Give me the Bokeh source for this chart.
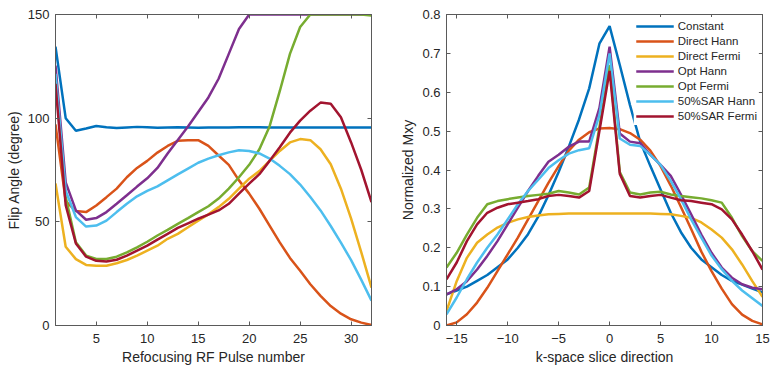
from bokeh.plotting import figure
from bokeh.layouts import row
from bokeh.models import (LinearAxis, FixedTicker, CustomJSTickFormatter, Range1d,
                          CustomLabelingPolicy)
from bokeh.embed import file_html
from bokeh.resources import INLINE

# ---------------- data ----------------
pulse = list(range(1, 33))
kspace = list(range(-16, 16))

series_names = ["Constant", "Direct Hann", "Direct Fermi", "Opt Hann",
                "Opt Fermi", "50%SAR Hann", "50%SAR Fermi"]
series_colors = ["#0072BD", "#D95319", "#EDB120", "#7E2F8E",
                 "#77AC30", "#4DBEEE", "#A2142F"]

# Flip angle (degree) vs refocusing pulse number
fa_constant = [134.5, 100, 93.9, 95, 96.2, 95.6, 95.2, 95.5, 95.8, 95.6, 95.4, 95.5,
               95.6, 95.5, 95.4, 95.5, 95.5, 95.5, 95.6, 95.6, 95.6, 95.5, 95.5, 95.5,
               95.5, 95.5, 95.5, 95.5, 95.5, 95.5, 95.5, 95.5]
fa_direct_hann = [97, 60, 55.2, 54.7, 57.9, 61.9, 66, 71.5, 76, 79.4, 83.4, 86.6,
                  89.1, 89.4, 89.4, 86.6, 82, 77.5, 70, 63.6, 56.3, 48.2, 40.1, 32.6,
                  26.4, 19.9, 14.3, 9.4, 5.7, 3, 1.4, 0.2]
fa_direct_fermi = [68.5, 38, 32, 29.2, 28.8, 28.8, 30, 31.6, 33.7, 36.1, 38.5, 41.8,
                   44.2, 47.4, 50.6, 53.6, 57.1, 61.1, 66, 70.8, 74.5, 79.4, 84.2, 88.3,
                   89.9, 89.4, 85, 77.8, 66, 51.5, 35.3, 18.3]
fa_opt_hann = [125.4, 69, 55.5, 51, 51.8, 54.7, 58.7, 62.8, 67, 71, 76, 83,
               89.5, 96, 103, 110, 119, 131, 143, 150, 150, 150, 150, 150,
               150, 150, 150, 150, 150, 150, 150, 150]
fa_opt_fermi = [119, 62, 40.1, 33.7, 32.1, 32.1, 33.2, 35.3, 37.7, 40.4, 43.4, 46.1,
                49, 51.8, 54.7, 57.5, 61.2, 66, 71.5, 77.5, 85, 96, 113, 131,
                144, 150, 150, 150, 150, 150, 150, 149.5]
fa_sar_hann = [121.4, 65, 52.3, 47.7, 48.2, 50.6, 54.7, 58.7, 62.3, 64.9, 67.1, 70,
               72.9, 75.7, 78.5, 80.5, 82.1, 83.5, 84.5, 84.2, 83, 80.5, 77, 73,
               68, 62, 55.5, 48, 40, 31.5, 22, 12]
fa_sar_fermi = [116.6, 58, 39.6, 33.2, 31.2, 30.9, 31.7, 33.7, 36.1, 38.5, 41.4, 44.2,
                47.1, 49.3, 51.5, 53.5, 55.5, 58.7, 63.6, 68.4, 73, 79.4, 86, 93,
                98.8, 103.6, 107.5, 107, 100.4, 88.3, 75, 59.5]

# Normalized Mxy vs k-space slice direction
mxy_constant = [0.08, 0.09, 0.10, 0.115, 0.13, 0.15, 0.17, 0.2, 0.235, 0.28, 0.335, 0.395,
                0.46, 0.53, 0.61, 0.725, 0.77, 0.67, 0.567, 0.473, 0.41, 0.35, 0.29, 0.24,
                0.2, 0.17, 0.15, 0.13, 0.115, 0.105, 0.095, 0.085]
mxy_direct_hann = [0.0, 0.008, 0.029, 0.059, 0.097, 0.14, 0.183, 0.226, 0.273, 0.32, 0.367, 0.41,
                   0.45, 0.478, 0.497, 0.507, 0.508, 0.505, 0.495, 0.478, 0.45, 0.41, 0.36, 0.305,
                   0.248, 0.19, 0.14, 0.095, 0.055, 0.028, 0.012, 0.003]
mxy_direct_fermi = [0.037, 0.114, 0.174, 0.213, 0.234, 0.252, 0.264, 0.273, 0.279, 0.283, 0.286, 0.287,
                    0.288, 0.288, 0.288, 0.288, 0.288, 0.288, 0.288, 0.288, 0.288, 0.287, 0.286, 0.282,
                    0.277, 0.265, 0.247, 0.226, 0.196, 0.157, 0.114, 0.074]
mxy_opt_hann = [0.08, 0.093, 0.114, 0.144, 0.179, 0.217, 0.26, 0.303, 0.346, 0.385, 0.421, 0.439,
                0.46, 0.473, 0.473, 0.559, 0.717, 0.494, 0.473, 0.469, 0.439, 0.413, 0.385, 0.337,
                0.286, 0.234, 0.187, 0.149, 0.123, 0.106, 0.097, 0.093]
mxy_opt_fermi = [0.149, 0.187, 0.234, 0.277, 0.312, 0.32, 0.325, 0.329, 0.333, 0.336, 0.339, 0.346,
                 0.342, 0.337, 0.355, 0.51, 0.67, 0.395, 0.342, 0.337, 0.342, 0.344, 0.337, 0.333,
                 0.33, 0.327, 0.322, 0.316, 0.277, 0.23, 0.191, 0.166]
mxy_sar_hann = [0.029, 0.072, 0.119, 0.162, 0.2, 0.234, 0.273, 0.312, 0.346, 0.375, 0.405, 0.425,
                0.442, 0.451, 0.456, 0.541, 0.70, 0.481, 0.465, 0.462, 0.439, 0.413, 0.372, 0.325,
                0.273, 0.226, 0.18, 0.145, 0.115, 0.09, 0.07, 0.05]
mxy_sar_fermi = [0.119, 0.162, 0.217, 0.26, 0.29, 0.303, 0.312, 0.316, 0.32, 0.325, 0.333, 0.336,
                 0.333, 0.329, 0.346, 0.50, 0.655, 0.39, 0.333, 0.329, 0.333, 0.336, 0.329, 0.322,
                 0.32, 0.316, 0.312, 0.299, 0.273, 0.234, 0.191, 0.144]

left_x_ticks = [5, 10, 15, 20, 25, 30]
left_y_ticks = [0, 50, 100, 150]
right_x_ticks = [-15, -10, -5, 0, 5, 10, 15]
right_y_ticks = [0, 0.1, 0.2, 0.3, 0.4, 0.5, 0.6, 0.7, 0.8]

fa_series = [fa_constant, fa_direct_hann, fa_direct_fermi, fa_opt_hann,
             fa_opt_fermi, fa_sar_hann, fa_sar_fermi]
mxy_series = [mxy_constant, mxy_direct_hann, mxy_direct_fermi, mxy_opt_hann,
              mxy_opt_fermi, mxy_sar_hann, mxy_sar_fermi]

# ---------------- style ----------------
FONT = "Liberation Sans"
TEXT = "#262626"
AX = "#5a5a5a"
LW = 2.5

hide_labels = CustomLabelingPolicy(
    code="for (const i of Array.from(indices)) { indices.unset(i) }\nreturn indices")


def style(p, xticks, yticks, xlabel, ylabel, yfmt=None):
    p.grid.visible = False
    p.outline_line_color = AX
    p.outline_line_width = 1
    p.background_fill_color = "white"
    p.border_fill_color = "white"
    xa = p.below[0]
    ya = p.left[0]
    xa.ticker = FixedTicker(ticks=xticks)
    ya.ticker = FixedTicker(ticks=yticks)
    if yfmt is not None:
        ya.formatter = yfmt
    for ax, lab in ((xa, xlabel), (ya, ylabel)):
        ax.axis_label = lab
        ax.axis_label_text_font = FONT
        ax.axis_label_text_font_size = "14px"
        ax.axis_label_text_font_style = "normal"
        ax.axis_label_text_color = TEXT
        ax.major_label_text_font = FONT
        ax.major_label_text_font_size = "13px"
        ax.major_label_text_color = TEXT
        ax.axis_line_color = AX
        ax.major_tick_line_color = AX
        ax.major_tick_in = 4
        ax.major_tick_out = 0
        ax.minor_tick_line_color = None
    xa.major_label_standoff = 8
    xa.axis_label_standoff = 3
    ya.major_label_standoff = 6
    ya.axis_label_standoff = 3
    for loc, ticks in (("above", xticks), ("right", yticks)):
        ax = LinearAxis(ticker=FixedTicker(ticks=ticks),
                        major_label_policy=hide_labels,
                        major_label_text_font_size="1px",
                        major_label_standoff=0,
                        major_tick_in=4, major_tick_out=0,
                        minor_tick_line_color=None,
                        axis_line_color=AX, major_tick_line_color=AX)
        p.add_layout(ax, loc)


# ---------------- left figure ----------------
p1 = figure(width=390, height=372, output_backend="svg", toolbar_location=None,
            x_range=Range1d(1, 32), y_range=Range1d(0, 150),
            min_border_left=55, min_border_right=19,
            min_border_top=14, min_border_bottom=47)
style(p1, left_x_ticks, left_y_ticks, "Refocusing RF Pulse number", "Flip Angle (degree)")
for ys, c in zip(fa_series, series_colors):
    p1.line(pulse, ys, line_color=c, line_width=LW)

# ---------------- right figure ----------------
p2 = figure(width=380, height=372, output_backend="svg", toolbar_location=None,
            x_range=Range1d(-16, 15), y_range=Range1d(0, 0.8),
            min_border_left=56, min_border_right=8,
            min_border_top=14, min_border_bottom=47)
fmt = CustomJSTickFormatter(code="return Math.abs(tick) < 1e-9 ? '0' : tick.toFixed(1);")
style(p2, right_x_ticks, right_y_ticks, "k-space slice direction", "Normalized Mxy", yfmt=fmt)
for ys, c, n in zip(mxy_series, series_colors, series_names):
    p2.line(kspace, ys, line_color=c, line_width=LW, legend_label=n)

lg = p2.legend[0]
lg.location = "top_right"
lg.label_text_font = FONT
lg.label_text_font_size = "11.5px"
lg.label_text_color = TEXT
lg.glyph_width = 38
lg.glyph_height = 14
lg.label_height = 14
lg.spacing = 1
lg.padding = 2
lg.margin = 3
lg.label_standoff = 4
lg.border_line_alpha = 0
lg.background_fill_alpha = 1

layout = row(p1, p2)
open("out.html", "w").write(file_html(layout, INLINE))
